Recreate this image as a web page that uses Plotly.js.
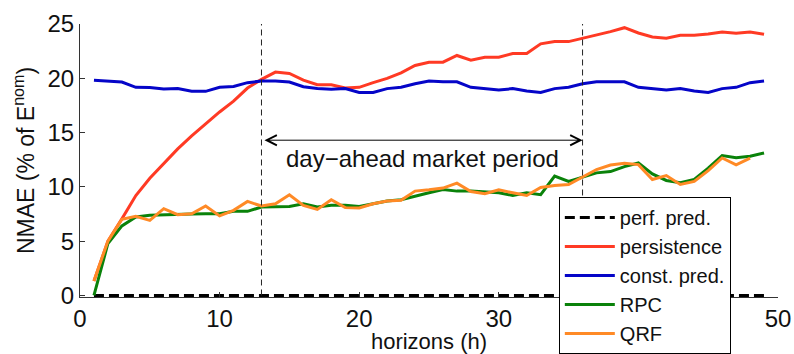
<!DOCTYPE html>
<html>
<head>
<meta charset="utf-8">
<script src="https://cdn.plot.ly/plotly-3.0.1.min.js"></script>
<style>html,body{margin:0;padding:0;background:#fff;}#chart{width:794px;height:354px;}</style>
</head>
<body>
<div id="chart"></div>
<script>
// horizons (h)
const horizons = [1,2,3,4,5,6,7,8,9,10,11,12,13,14,15,16,17,18,19,20,21,22,23,24,25,26,27,28,29,30,31,32,33,34,35,36,37,38,39,40,41,42,43,44,45,46,47,48,49];
const horizonsQRF = horizons.slice(0, 48);

const perfPred = [0,0,0,0,0,0,0,0,0,0,0,0,0,0,0,0,0,0,0,0,0,0,0,0,0,0,0,0,0,0,0,0,0,0,0,0,0,0,0,0,0,0,0,0,0,0,0,0,0];

const persistence = [1.34,5.0,7.05,9.2,10.8,12.2,13.5,14.7,15.8,16.9,17.9,19.1,19.9,20.57,20.45,19.83,19.41,19.41,19.1,19.17,19.6,19.99,20.5,21.18,21.48,21.48,22.1,21.67,21.94,21.94,22.28,22.28,23.17,23.38,23.38,23.68,23.96,24.3,24.66,24.17,23.8,23.68,23.96,23.96,24.08,24.27,24.14,24.27,24.05];

const constPred = [19.83,19.75,19.65,19.17,19.15,19.02,19.05,18.8,18.8,19.17,19.25,19.6,19.75,19.75,19.65,19.23,19.05,18.98,19.05,18.7,18.7,19.05,19.17,19.5,19.75,19.68,19.68,19.17,19.05,18.92,19.05,18.83,18.7,19.05,19.17,19.5,19.68,19.68,19.68,19.17,19.05,18.92,19.05,18.83,18.7,19.05,19.17,19.6,19.75];

const rpc = [0,4.79,6.41,7.23,7.38,7.44,7.44,7.5,7.53,7.53,7.75,7.75,8.15,8.2,8.2,8.45,8.15,8.3,8.3,8.2,8.45,8.7,8.82,9.16,9.46,9.76,9.61,9.61,9.52,9.46,9.21,9.46,9.28,10.99,10.5,10.9,11.29,11.41,11.87,12.2,11.2,10.59,10.38,10.68,11.72,12.88,12.69,12.82,13.12];

const qrf = [1.34,5.0,7.02,7.29,6.92,7.99,7.44,7.53,8.24,7.33,7.84,8.66,8.24,8.45,9.28,8.3,7.93,8.82,8.09,8.06,8.45,8.7,8.76,9.61,9.73,9.89,10.35,9.58,9.37,9.73,9.46,9.21,9.94,10.13,10.22,10.9,11.6,12.02,12.18,12.05,10.68,11.04,10.22,10.5,11.5,12.66,12.02,12.64];

// day-ahead market period bounds (h) and arrow level
const marketPeriod = [13, 36];
const arrowLevel = 14.3;
const labelLevel = 12.6;

const xTicks = [0,10,20,30,40,50];
const xTickText = ['0','10','20','30','','50']; // "40" is hidden behind the legend in the original
const yTicks = [0,5,10,15,20,25];

const FONT = 'Liberation Sans, Arial, sans-serif';

const traces = [
  {x: horizons, y: perfPred, name: 'perf. pred.', mode: 'lines', line: {color: '#000', width: 3, dash: '10px,5px'}},
  {x: horizons, y: persistence, name: 'persistence', mode: 'lines', line: {color: '#ff3a24', width: 3}},
  {x: horizons, y: constPred, name: 'const. pred.', mode: 'lines', line: {color: '#0505c8', width: 3}},
  {x: horizons, y: rpc, name: 'RPC', mode: 'lines', line: {color: '#0a820a', width: 3}},
  {x: horizonsQRF, y: qrf, name: 'QRF', mode: 'lines', line: {color: '#ff8a26', width: 3}}
];

const shapes = marketPeriod.map(v => ({
  type: 'line', xref: 'x', yref: 'y', x0: v, x1: v, y0: 0, y1: 25,
  line: {color: '#222', width: 1, dash: '6px,4px'}
}));

const annotations = [
  {xref: 'x', yref: 'y', axref: 'x', ayref: 'y',
   x: marketPeriod[1], y: arrowLevel, ax: marketPeriod[0], ay: arrowLevel,
   text: ' ', showarrow: true, arrowhead: 5, startarrowhead: 5, arrowside: 'end+start',
   arrowsize: 2, startarrowsize: 2, arrowwidth: 1, arrowcolor: '#000'},
  {xref: 'x', yref: 'y', x: (marketPeriod[0] + marketPeriod[1]) / 2, y: labelLevel,
   text: 'day\u2212ahead market period', showarrow: false,
   font: {family: FONT, size: 24, color: '#111'}}
];

const layout = {
  width: 794, height: 354,
  margin: {l: 80, r: 16, t: 24, b: 57, autoexpand: false},
  paper_bgcolor: '#fff', plot_bgcolor: '#fff',
  showlegend: true,
  font: {family: FONT, color: '#111'},
  xaxis: {
    range: [0, 50], tickvals: xTicks, ticktext: xTickText, automargin: false,
    ticks: 'inside', ticklen: 5, tickcolor: '#333', showline: true, linecolor: '#333', linewidth: 1,
    showgrid: false, zeroline: false, tickfont: {family: FONT, size: 24, color: '#111'},
    title: {text: 'horizons (h)', font: {family: FONT, size: 22, color: '#111'}, standoff: 0}
  },
  yaxis: {
    range: [-0.14, 25], tickvals: yTicks, ticktext: yTicks.map(String), automargin: false,
    ticks: 'inside', ticklen: 5, tickcolor: '#333', showline: true, linecolor: '#333', linewidth: 1,
    showgrid: false, zeroline: false, tickfont: {family: FONT, size: 24, color: '#111'},
    title: {text: 'NMAE (% of E<sup>nom</sup>)', font: {family: FONT, size: 23, color: '#111'}, standoff: 6}
  },
  legend: {
    x: 0.686, y: 0.366, xanchor: 'left', yanchor: 'top',
    bgcolor: '#fff', bordercolor: '#000', borderwidth: 1,
    font: {family: FONT, size: 20, color: '#111'},
    itemwidth: 50, tracegroupgap: 0
  },
  shapes: shapes,
  annotations: annotations
};

Plotly.newPlot('chart', traces, layout, {displayModeBar: false, staticPlot: true});
</script>
</body>
</html>
